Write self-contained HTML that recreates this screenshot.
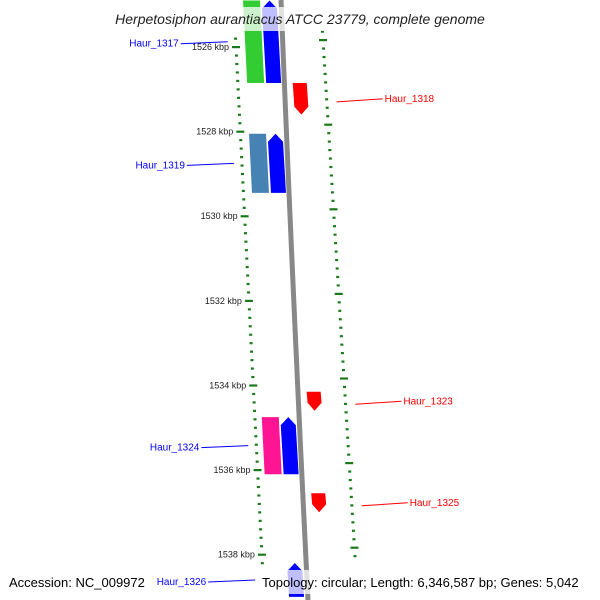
<!DOCTYPE html>
<html><head><meta charset="utf-8"><style>
html,body{margin:0;padding:0;background:#fff;}
svg{display:block;font-family:"Liberation Sans",sans-serif;}
</style></head><body>
<svg id="map" width="600" height="600" viewBox="0 0 600 600">
<defs>
<linearGradient id="bb" x1="0" x2="1"><stop offset="0" stop-color="#999"/><stop offset="0.5" stop-color="#777"/><stop offset="1" stop-color="#aaa"/></linearGradient>
</defs>
<g id="ticks"></g>
<path d="M281,0 Q293,300 308,600" stroke="#888" stroke-width="5" fill="none"/>
<g id="genes"></g>
<g id="labels"></g>
<rect x="90" y="7" width="420" height="24" fill="#fff" opacity="0.75"/>
<text x="300" y="24" text-anchor="middle" font-size="14" font-style="italic" fill="#222">Herpetosiphon aurantiacus ATCC 23779, complete genome</text>
<text x="9" y="587" font-size="13" fill="#000">Accession: NC_009972</text>
<rect x="259" y="570" width="338" height="24" fill="#fff" opacity="0.75"/>
<text x="262" y="587" font-size="13" fill="#000">Topology: circular; Length: 6,346,587 bp; Genes: 5,042</text>
</svg>
<script>
const tickKbp=[1525.8,1526,1526.2,1526.4,1526.6,1526.8,1527,1527.2,1527.4,1527.6,1527.8,1528,1528.2,1528.4,1528.6,1528.8,1529,1529.2,1529.4,1529.6,1529.8,1530,1530.2,1530.4,1530.6,1530.8,1531,1531.2,1531.4,1531.6,1531.8,1532,1532.2,1532.4,1532.6,1532.8,1533,1533.2,1533.4,1533.6,1533.8,1534,1534.2,1534.4,1534.6,1534.8,1535,1535.2,1535.4,1535.6,1535.8,1536,1536.2,1536.4,1536.6,1536.8,1537,1537.2,1537.4,1537.6,1537.8,1538,1538.2];
const majorLabels=["1526 kbp","1528 kbp","1530 kbp","1532 kbp","1534 kbp","1536 kbp","1538 kbp"];
const majorKbp=[1526,1528,1530,1532,1534,1536,1538];
const geneNames=["Haur_1317","Haur_1318","Haur_1319","Haur_1323","Haur_1324","Haur_1325","Haur_1326"];
const geneStart=[1524.9,1526.85,1528.05,1534.15,1534.75,1536.55,1538.2];
const geneEnd=[1526.85,1527.6,1529.45,1534.6,1536.1,1537.0,1539.0];
const geneStrand=[1,-1,1,-1,1,-1,1];
const neighbourColor=["#33cc33",null,"#4682b4",null,"#ff1493",null,null];
const geneColor=["#0000ff","#ff0000","#0000ff","#ff0000","#0000ff","#ff0000","#0000ff"];
const NS="http://www.w3.org/2000/svg";
function yOf(k){return 47+(k-1526)*42.3;}
function leftX(y){return 236+(y-47)*0.051;}
function rightX(y){return 323+(y-40)*0.062;}
function bbX(y){return 281+y*0.045;}
const tg=document.getElementById('ticks');
tickKbp.forEach(k=>{
  const y=yOf(k);const maj=Math.abs(k-Math.round(k/2)*2)<0.01;
  const l=document.createElementNS(NS,'rect');
  
  
  const w=maj?8:3;const x=leftX(y);
  l.setAttribute('x',x-w/2);l.setAttribute('y',y-1);l.setAttribute('width',w);l.setAttribute('height',2.2);l.setAttribute('fill','#1a7a1a');tg.appendChild(l);
  const yr=y-7;const r=document.createElementNS(NS,'rect');
  
  
  const xr=rightX(yr);
  r.setAttribute('x',xr-w/2);r.setAttribute('y',yr-1);r.setAttribute('width',w);r.setAttribute('height',2.2);r.setAttribute('fill','#1a7a1a');tg.appendChild(r);
});
majorKbp.forEach((k,i)=>{
  const y=yOf(k);const t=document.createElementNS(NS,'text');
  
  
  t.setAttribute('x',leftX(y)-7);t.setAttribute('y',y+3);t.setAttribute('text-anchor','end');t.setAttribute('font-size','9');t.setAttribute('fill','#222');
  t.textContent=majorLabels[i];tg.appendChild(t);
});
const gg=document.getElementById('genes');const lg=document.getElementById('labels');
function block(x,y1,y2,w,col,strand,arrow){
  const off=(y2-y1)*0.05;let pts;
  if(!arrow){pts=[[x,y1],[x+w,y1],[x+w+off,y2],[x+off,y2]];}
  else if(strand>0){pts=[[x,y1+8],[x+w/2,y1],[x+w,y1+8],[x+w+off,y2],[x+off,y2]];}
  else{pts=[[x,y1],[x+w,y1],[x+w+off,y2-8],[x+w/2+off,y2],[x+off,y2-8]];}
  const p=document.createElementNS(NS,'polygon');
  
  
  p.setAttribute('points',pts.map(a=>a.join(',')).join(' '));p.setAttribute('fill',col);gg.appendChild(p);
}
geneNames.forEach((n,i)=>{
  const y1=yOf(geneStart[i]),y2=yOf(geneEnd[i]);const ym=Math.max(0,y1);
  if(geneStrand[i]>0){
    const x=bbX(ym)-19;
    block(x,y1,y2,15,geneColor[i],1,true);
    if(neighbourColor[i])block(x-19,y1,y2,17,neighbourColor[i],1,false);
  }else{
    block(bbX(ym)+8,y1,y2,14,geneColor[i],-1,true);
  }
  const ly=(Math.max(y1,0)+Math.min(y2,600))/2;
  const ln=document.createElementNS(NS,'line');
  
  
  const t=document.createElementNS(NS,'text');
  
  
  t.setAttribute('font-size','10');t.setAttribute('fill',geneColor[i]);t.textContent=n;
  if(geneStrand[i]>0){
    const x2=leftX(ly)-8;
    ln.setAttribute('x1',x2-47);ln.setAttribute('y1',ly+2);ln.setAttribute('x2',x2);ln.setAttribute('y2',ly);
    t.setAttribute('x',x2-49);t.setAttribute('y',ly+5);t.setAttribute('text-anchor','end');
  }else{
    const x1=rightX(ly)+10;
    ln.setAttribute('x1',x1);ln.setAttribute('y1',ly+3);ln.setAttribute('x2',x1+46);ln.setAttribute('y2',ly);
    t.setAttribute('x',x1+48);t.setAttribute('y',ly+3);
  }
  ln.setAttribute('stroke',geneColor[i]);ln.setAttribute('stroke-width','1');
  lg.appendChild(ln);lg.appendChild(t);
});
</script>
</body></html>
